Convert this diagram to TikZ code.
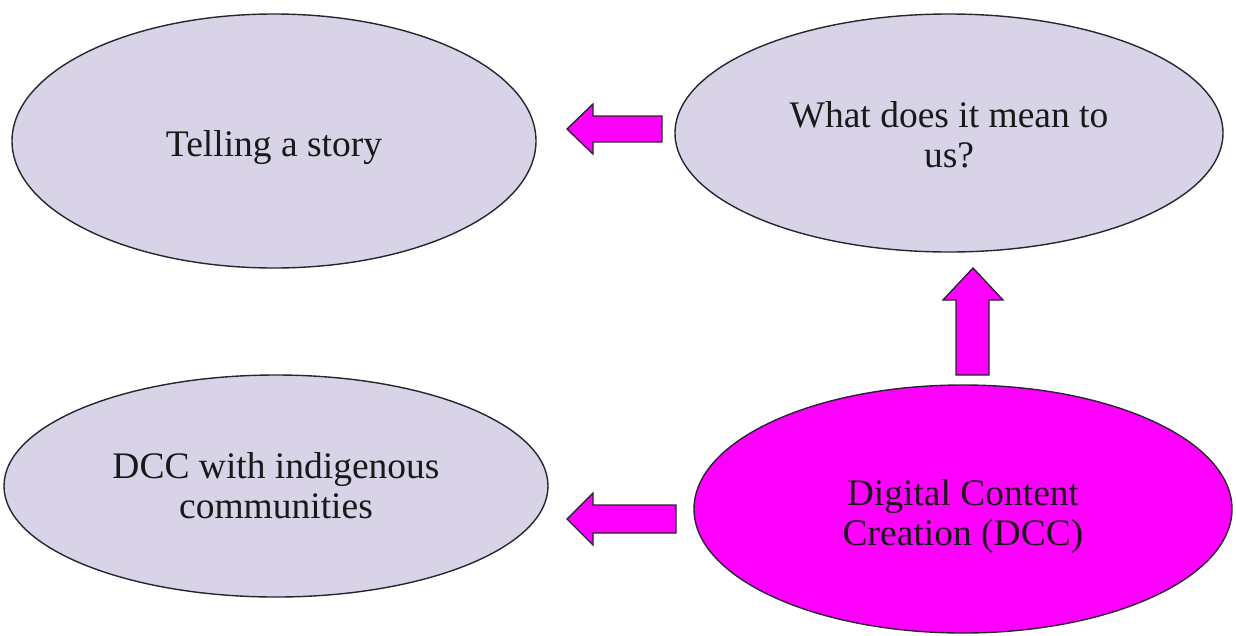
\documentclass[tikz,border=0pt]{standalone}
\usepackage{fontspec}
\setmainfont{Liberation Serif}
\usetikzlibrary{shapes.geometric}
\definecolor{lav}{RGB}{217,211,232}
\definecolor{mag}{RGB}{255,0,255}
\definecolor{edge}{RGB}{40,36,48}
\tikzset{
  oval/.style={ellipse, draw=edge, line width=1.4pt, fill=lav, inner sep=0pt},
  lbl/.style={align=center, text=black!90, inner sep=0pt, font=\fontsize{37.5}{40}\selectfont},
  blockarrow/.style={draw=edge, line width=1.4pt, fill=mag, line join=miter}
}
\begin{document}
\begin{tikzpicture}[x=1pt,y=-1pt]
\useasboundingbox (0,0) rectangle (1236,635);
\node[oval, minimum width=524pt, minimum height=254pt] (story) at (274,141) {};
\node[oval, minimum width=548pt, minimum height=238pt] (mean) at (949,133) {};
\node[oval, minimum width=544pt, minimum height=222pt] (indig) at (276,486) {};
\node[oval, fill=mag, minimum width=538pt, minimum height=248pt] (dcc) at (963,509) {};
\node[lbl] (storyT) at ([yshift=-7pt]story.center) {Telling a story};
\node[lbl] (meanT) at ([yshift=-2pt]mean.center) {What does it mean to\\us?};
\node[lbl] (indigT) at (indig.center) {DCC with indigenous\\communities};
\node[lbl] (dccT) at ([yshift=-7pt]dcc.center) {Digital Content\\Creation (DCC)};
% block arrows
\draw[blockarrow] (662,116) -- (593,116) -- (593,104) -- (567,129) -- (593,154) -- (593,142) -- (662,142) -- cycle;
\draw[blockarrow] (956,375) -- (956,300) -- (943,300) -- (973,268) -- (1003,300) -- (989,300) -- (989,375) -- cycle;
\draw[blockarrow] (676,505) -- (593,505) -- (593,493) -- (567,519) -- (593,545) -- (593,533) -- (676,533) -- cycle;
\end{tikzpicture}
\end{document}
